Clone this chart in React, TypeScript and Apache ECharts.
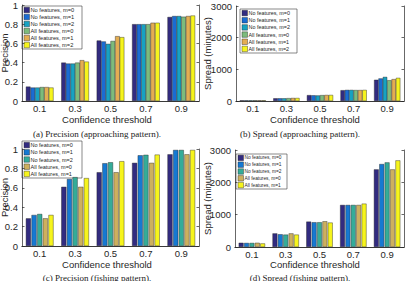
import React, { useEffect, useRef } from 'react';
import * as echarts from 'echarts';

// Confidence thresholds on the x axis
const thresholds = ['0.1', '0.3', '0.5', '0.7', '0.9'];

const approachNames = [
  'No features, m=0',
  'No features, m=1',
  'No features, m=2',
  'All features, m=0',
  'All features, m=1',
  'All features, m=2',
];
const fishingNames = approachNames.slice(0, 5);

// parula-like palettes (6 and 5 entries)
const approachColors = ['#322b80', '#1a6cd3', '#17a2c2', '#7dbb7c', '#e4ad52', '#f6f41c'];
const fishingColors = ['#322b80', '#1679d2', '#34ac99', '#cdb05e', '#f6f41c'];

// (a) precision, approaching pattern — one row per configuration
const precisionApproach = [
  [0.15, 0.40, 0.63, 0.80, 0.875],
  [0.14, 0.39, 0.62, 0.80, 0.885],
  [0.14, 0.39, 0.595, 0.80, 0.885],
  [0.145, 0.40, 0.625, 0.80, 0.878],
  [0.145, 0.425, 0.675, 0.815, 0.885],
  [0.14, 0.41, 0.665, 0.815, 0.89],
];

// (b) spread in minutes, approaching pattern
const spreadApproach = [
  [22, 85, 185, 340, 670],
  [22, 85, 180, 350, 712],
  [22, 85, 175, 350, 760],
  [22, 90, 185, 345, 655],
  [22, 95, 190, 345, 690],
  [22, 95, 190, 350, 730],
];

// (c) precision, fishing pattern
const precisionFishing = [
  [0.285, 0.61, 0.76, 0.857, 0.945],
  [0.32, 0.69, 0.853, 0.935, 0.99],
  [0.33, 0.71, 0.863, 0.94, 0.99],
  [0.285, 0.61, 0.76, 0.857, 0.945],
  [0.32, 0.70, 0.874, 0.942, 0.99],
];

// (d) spread in minutes, fishing pattern
const spreadFishing = [
  [130, 420, 785, 1300, 2400],
  [125, 393, 765, 1300, 2565],
  [125, 383, 765, 1300, 2616],
  [130, 420, 795, 1300, 2400],
  [110, 383, 755, 1340, 2678],
];

const AXIS = '#262626';
const SANS = '"Liberation Sans", Arial, Helvetica, sans-serif';
const SERIF = '"Liberation Serif", "DejaVu Serif", serif';

type Box = { x: number; y: number; w: number; h: number };

type PanelCfg = {
  names: string[];
  colors: string[];
  values: number[][];
  yMax: number;
  yInterval: number;
  yName: string;
  grid: { left: number; top: number; width: number; height: number };
  legendBox: Box;
  legendFont: number;
  xNameX: number;
  xNameY: number;
  caption: string;
  captionX: number;
  captionY: number;
  barGap: string;
  barCategoryGap: string;
};

// Boxed legend, MATLAB style: swatch + label per row
function legendGraphic(names: string[], colors: string[], box: Box, fontSize: number) {
  const row = (box.h - 1) / names.length;
  const sw = 5.5;
  const children: any[] = [
    {
      type: 'rect',
      shape: { x: box.x, y: box.y, width: box.w, height: box.h },
      style: { fill: '#ffffff', stroke: '#3a3a3a', lineWidth: 0.6 },
    },
  ];
  names.forEach((name, i) => {
    const cy = box.y + 0.5 + row * (i + 0.5);
    children.push({
      type: 'rect',
      shape: { x: box.x + 2, y: cy - sw / 2, width: sw, height: sw },
      style: { fill: colors[i], stroke: '#1e1e1e', lineWidth: 0.4 },
    });
    children.push({
      type: 'text',
      x: box.x + 2 + sw + 1,
      y: cy,
      style: {
        text: name,
        fontSize,
        fontFamily: SANS,
        fill: AXIS,
        align: 'left',
        verticalAlign: 'middle',
      },
    });
  });
  return { type: 'group', z: 100, children };
}

function buildOption(c: PanelCfg) {
  const line = { color: AXIS, width: 0.7 };
  const tick = { inside: true, length: 2.5, lineStyle: line };
  const g = c.grid;
  return {
    animation: false,
    grid: { ...g },
    xAxis: [
      {
        type: 'category',
        data: thresholds,
        position: 'bottom',
        boundaryGap: true,
        axisLine: { lineStyle: line },
        axisTick: { ...tick, alignWithLabel: true },
        axisLabel: { fontSize: 9.5, color: AXIS, margin: 2, fontFamily: SANS },
        splitLine: { show: false },
      },
      {
        type: 'category',
        data: thresholds,
        position: 'top',
        boundaryGap: true,
        axisLine: { lineStyle: line },
        axisTick: { ...tick, alignWithLabel: true },
        axisLabel: { show: false },
        splitLine: { show: false },
      },
    ],
    yAxis: [
      {
        type: 'value',
        min: 0,
        max: c.yMax,
        interval: c.yInterval,
        position: 'left',
        axisLine: { show: true, lineStyle: line },
        axisTick: { show: true, ...tick },
        axisLabel: {
          fontSize: 9.5,
          color: AXIS,
          margin: 4,
          fontFamily: SANS,
          formatter: (v: number) => String(v),
        },
        splitLine: { show: false },
      },
      {
        type: 'value',
        min: 0,
        max: c.yMax,
        interval: c.yInterval,
        position: 'right',
        axisLine: { show: true, lineStyle: line },
        axisTick: { show: true, ...tick },
        axisLabel: { show: false },
        splitLine: { show: false },
      },
    ],
    series: c.names.map((name, i) => ({
      type: 'bar',
      name,
      data: c.values[i],
      xAxisIndex: 0,
      yAxisIndex: 0,
      barGap: c.barGap,
      barCategoryGap: c.barCategoryGap,
      itemStyle: { color: c.colors[i], borderColor: '#1e1e1e', borderWidth: 0.4 },
    })),
    graphic: [
      legendGraphic(c.names, c.colors, c.legendBox, c.legendFont),
      {
        type: 'text',
        x: 4.5,
        y: g.top + g.height / 2,
        rotation: Math.PI / 2,
        style: {
          text: c.yName,
          fontSize: 9.5,
          fontFamily: SANS,
          fill: AXIS,
          align: 'center',
          verticalAlign: 'middle',
        },
      },
      {
        type: 'text',
        x: c.xNameX,
        y: c.xNameY,
        style: {
          text: 'Confidence threshold',
          fontSize: 9.5,
          fontFamily: SANS,
          fill: AXIS,
          align: 'center',
          verticalAlign: 'middle',
        },
      },
      {
        type: 'text',
        x: c.captionX,
        y: c.captionY,
        style: {
          text: c.caption,
          fontSize: 9,
          fontFamily: SERIF,
          fill: '#222222',
          align: 'center',
          verticalAlign: 'middle',
        },
      },
    ],
  };
}

function Panel({ x, y, w, h, cfg }: { x: number; y: number; w: number; h: number; cfg: PanelCfg }) {
  const ref = useRef<HTMLDivElement>(null);
  useEffect(() => {
    if (!ref.current) return;
    const chart = echarts.init(ref.current, undefined, { renderer: 'svg' });
    chart.setOption(buildOption(cfg) as any);
    return () => chart.dispose();
  }, [cfg]);
  return (
    <div
      ref={ref}
      style={{ position: 'absolute', left: x, top: y, width: w, height: h, overflow: 'hidden' }}
    />
  );
}

const panelA: PanelCfg = {
  names: approachNames,
  colors: approachColors,
  values: precisionApproach,
  yMax: 1,
  yInterval: 0.2,
  yName: 'Precision',
  grid: { left: 22, top: 5, width: 177, height: 96 },
  legendBox: { x: 22, y: 6, w: 60, h: 43 },
  legendFont: 5.7,
  xNameX: 107,
  xNameY: 119,
  caption: '(a) Precision (approaching pattern).',
  captionX: 97,
  captionY: 133.5,
  barGap: '0%',
  barCategoryGap: '22%',
};

const panelB: PanelCfg = {
  names: approachNames,
  colors: approachColors,
  values: spreadApproach,
  yMax: 3000,
  yInterval: 1000,
  yName: 'Spread (minutes)',
  grid: { left: 33, top: 6, width: 168, height: 95 },
  legendBox: { x: 37, y: 9, w: 57, h: 44 },
  legendFont: 5.4,
  xNameX: 112,
  xNameY: 119,
  caption: '(b) Spread (approaching pattern).',
  captionX: 97,
  captionY: 133.5,
  barGap: '0%',
  barCategoryGap: '22%',
};

const panelC: PanelCfg = {
  names: fishingNames,
  colors: fishingColors,
  values: precisionFishing,
  yMax: 1,
  yInterval: 0.2,
  yName: 'Precision',
  grid: { left: 22, top: 9, width: 177, height: 97 },
  legendBox: { x: 22, y: 1, w: 60, h: 37 },
  legendFont: 5.5,
  xNameX: 107,
  xNameY: 124.5,
  caption: '(c) Precision (fishing pattern).',
  captionX: 97,
  captionY: 138,
  barGap: '12%',
  barCategoryGap: '22%',
};

const panelD: PanelCfg = {
  names: fishingNames,
  colors: fishingColors,
  values: spreadFishing,
  yMax: 3000,
  yInterval: 1000,
  yName: 'Spread (minutes)',
  grid: { left: 32, top: 10, width: 169, height: 97 },
  legendBox: { x: 33, y: 14, w: 51, h: 35 },
  legendFont: 4.8,
  xNameX: 112,
  xNameY: 124.5,
  caption: '(d) Spread (fishing pattern).',
  captionX: 97,
  captionY: 138,
  barGap: '12%',
  barCategoryGap: '22%',
};

export default function App() {
  return (
    <div
      style={{
        position: 'fixed',
        left: 0,
        top: 0,
        width: 407,
        height: 281,
        background: '#ffffff',
        overflow: 'hidden',
      }}
    >
      <Panel x={0} y={0} w={204} h={140} cfg={panelA} />
      <Panel x={203} y={0} w={204} h={140} cfg={panelB} />
      <Panel x={0} y={140} w={204} h={141} cfg={panelC} />
      <Panel x={203} y={140} w={204} h={141} cfg={panelD} />
    </div>
  );
}
